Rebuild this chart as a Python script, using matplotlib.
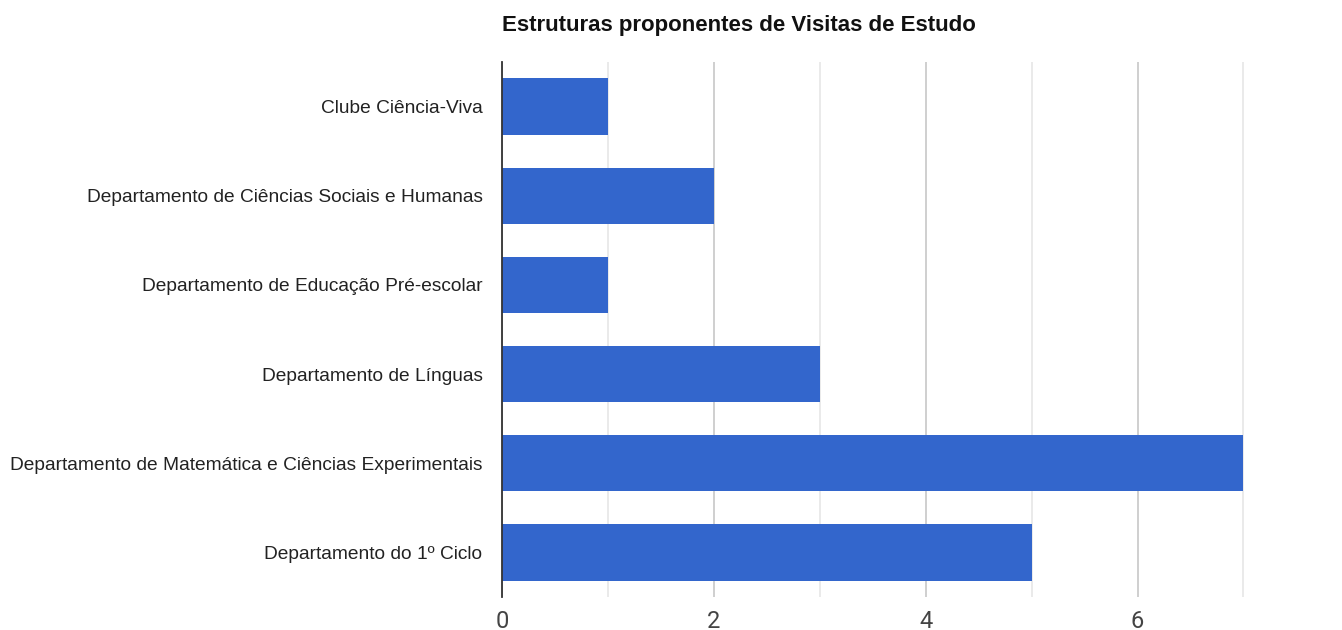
import numpy as np
import matplotlib
matplotlib.use("Agg")
import matplotlib.pyplot as plt

# dados do grafico
estruturas = ["Clube Ciência-Viva",
              "Departamento de Ciências Sociais e Humanas",
              "Departamento de Educação Pré-escolar",
              "Departamento de Línguas",
              "Departamento de Matemática e Ciências Experimentais",
              "Departamento do 1º Ciclo"]
visitas = [1, 2, 1, 3, 7, 5]
ticks_maj = [0, 2, 4, 6]
ticks_min = [1, 3, 5, 7]

fig = plt.figure(figsize=(13.42, 6.3), dpi=100)
ax = fig.add_axes([502/1342, 33/630, 742/1342, 535/630])

y = np.arange(len(estruturas))
ax.barh(y, visitas, height=0.63, color="#3366cc", zorder=3)
ax.set_ylim(len(estruturas) - 0.5, -0.5)
ax.set_xlim(0, 7.005)

ax.set_xticks(ticks_maj)
ax.set_xticks(ticks_min, minor=True)
ax.grid(axis="x", which="major", color="#cccccc", lw=1.3, zorder=0)
ax.grid(axis="x", which="minor", color="#e8e8e8", lw=1.3, zorder=0)
ax.tick_params(axis="x", which="both", length=0, pad=9, labelsize=17, labelcolor="#444444")
for lab in ax.get_xticklabels():
    lab.set_family("Roboto")

ax.set_yticks(y)
ax.set_yticklabels(estruturas, family="Liberation Sans", fontsize=13.8, color="#222222")
ax.tick_params(axis="y", length=0, pad=14)

for s in ["top", "right", "bottom"]:
    ax.spines[s].set_visible(False)
ax.spines["left"].set_color("#333333")
ax.spines["left"].set_linewidth(1.3)
ax.spines["left"].set_zorder(4)

fig.text(502/1342, 1 - 26/630, "Estruturas proponentes de Visitas de Estudo",
         family="Liberation Sans", fontsize=16, fontweight="bold", color="#111111",
         ha="left", va="center")

fig.savefig("out.png", dpi=100)
